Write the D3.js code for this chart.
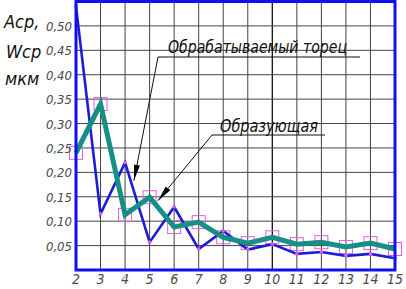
<!DOCTYPE html>
<html>
<head>
<meta charset="utf-8">
<script src="https://cdn.jsdelivr.net/npm/d3@7"></script>
<style>
  body { margin: 0; background: #fff; }
  text { font-family: "Liberation Sans Narrow", "DejaVu Sans Condensed", "DejaVu Sans", sans-serif; font-style: italic; }
</style>
</head>
<body>
<div class="chart"></div>
<script>
// data
var passes = [2, 3, 4, 5, 6, 7, 8, 9, 10, 11, 12, 13, 14, 15];
var torec = [0.54, 0.115, 0.22, 0.057, 0.129, 0.043, 0.08, 0.042, 0.053, 0.033, 0.037, 0.029, 0.033, 0.024];
var obraz = [0.24, 0.34, 0.113, 0.149, 0.088, 0.098, 0.067, 0.055, 0.067, 0.053, 0.057, 0.047, 0.055, 0.043];
var yTicks = [0.05, 0.10, 0.15, 0.20, 0.25, 0.30, 0.35, 0.40, 0.45, 0.50];
var yLabels = ["Аср,", "Wср", "мкм"];
var notes = ["Обрабатываемый торец", "Образующая"];

var svgWidth = 406;
var svgHeight = 289;

var svg = d3.select(".chart").append("svg")
  .attr("width", svgWidth).attr("height", svgHeight)
  .style("display", "block");

var x = d3.scaleLinear().domain([2, 15]).range([76, 395]);
var y = d3.scaleLinear().domain([0, 0.55]).range([270, 1.5]);

// grid
var grid = svg.append("g");
grid.selectAll("line.v")
  .data(passes.slice(1, -1))
  .enter().append("line")
  .attr("x1", d => x(d)).attr("x2", d => x(d))
  .attr("y1", y(0)).attr("y2", y(0.55))
  .attr("stroke", d => d == 10 ? "#111" : "#444")
  .attr("stroke-width", d => d == 10 ? 1.3 : 1);
grid.selectAll("line.h")
  .data(yTicks)
  .enter().append("line")
  .attr("x1", x(2)).attr("x2", x(15))
  .attr("y1", d => y(d)).attr("y2", d => y(d))
  .attr("stroke", "#444")
  .attr("stroke-width", 1);

// markers for the teal series
svg.append("g").selectAll("rect")
  .data(obraz)
  .enter().append("rect")
  .attr("x", (d, i) => x(passes[i]) - 6.5)
  .attr("y", d => y(d) - 6.5)
  .attr("width", 13).attr("height", 13)
  .attr("fill", "none")
  .attr("stroke", "#e25ee2")
  .attr("stroke-width", 1);

var line = d3.line().x((d, i) => x(passes[i])).y(d => y(d));

svg.append("path").datum(torec)
  .attr("d", line)
  .attr("fill", "none")
  .attr("stroke", "#1c1cd8")
  .attr("stroke-width", 2.6)
  .attr("stroke-linejoin", "miter");

svg.append("g").selectAll("circle")
  .data(torec)
  .enter().append("circle")
  .attr("cx", (d, i) => x(passes[i]))
  .attr("cy", d => y(d))
  .attr("r", 1.8)
  .attr("fill", "#e25ee2");

svg.append("path").datum(obraz)
  .attr("d", line)
  .attr("fill", "none")
  .attr("stroke", "#168f84")
  .attr("stroke-width", 5)
  .attr("stroke-linejoin", "miter");

// frame
var frame = svg.append("g").attr("stroke", "#1010ee").attr("stroke-width", 3).attr("fill", "none");
frame.append("path")
  .attr("d", `M${x(2)},${y(0.55)} L${x(15)},${y(0.55)} L${x(15)},${y(0)} L${x(2)},${y(0)} Z`);

// axis labels
svg.append("g").selectAll("text")
  .data(yTicks)
  .enter().append("text")
  .attr("x", 72)
  .attr("y", d => y(d) + 5)
  .attr("text-anchor", "end")
  .attr("font-size", 13)
  .attr("fill", "#4a4a4a")
  .text(d => d.toFixed(2).replace(".", ","));

svg.append("g").selectAll("text")
  .data(passes)
  .enter().append("text")
  .attr("x", d => x(d))
  .attr("y", 284)
  .attr("text-anchor", "middle")
  .attr("font-size", 14)
  .attr("fill", "#4a4a4a")
  .text(d => d);

svg.append("g").selectAll("text")
  .data(yLabels)
  .enter().append("text")
  .attr("x", (d, i) => [4, 6, 5][i])
  .attr("y", (d, i) => [28, 58, 85][i])
  .attr("font-size", 18)
  .attr("fill", "#111")
  .text(d => d);

// callouts
svg.append("defs").append("marker")
  .attr("id", "arr")
  .attr("viewBox", "0 0 16 6")
  .attr("refX", 16).attr("refY", 3)
  .attr("markerWidth", 16).attr("markerHeight", 6)
  .attr("markerUnits", "userSpaceOnUse")
  .attr("orient", "auto")
  .append("path").attr("d", "M0,0 L16,3 L0,6 Z").attr("fill", "#000");

var callouts = [
  {text: notes[0], tx: 168, ty: 53, tw: 179, ux1: 158, ux2: 360, uy: 57, px: 4.36, py: 0.183},
  {text: notes[1], tx: 220, ty: 132, tw: 98, ux1: 212, ux2: 325, uy: 135, px: 5.34, py: 0.142}
];
var cg = svg.append("g");
callouts.forEach(function(c) {
  cg.append("text")
    .attr("x", c.tx).attr("y", c.ty)
    .attr("font-size", 18)
    .attr("fill", "#111")
    .attr("textLength", c.tw)
    .attr("lengthAdjust", "spacingAndGlyphs")
    .text(c.text);
  cg.append("line")
    .attr("x1", c.ux1).attr("x2", c.ux2)
    .attr("y1", c.uy).attr("y2", c.uy)
    .attr("stroke", "#111").attr("stroke-width", 1);
  cg.append("line")
    .attr("x1", c.ux1).attr("y1", c.uy)
    .attr("x2", x(c.px)).attr("y2", y(c.py))
    .attr("stroke", "#111").attr("stroke-width", 1)
    .attr("marker-end", "url(#arr)");
});
</script>
</body>
</html>
